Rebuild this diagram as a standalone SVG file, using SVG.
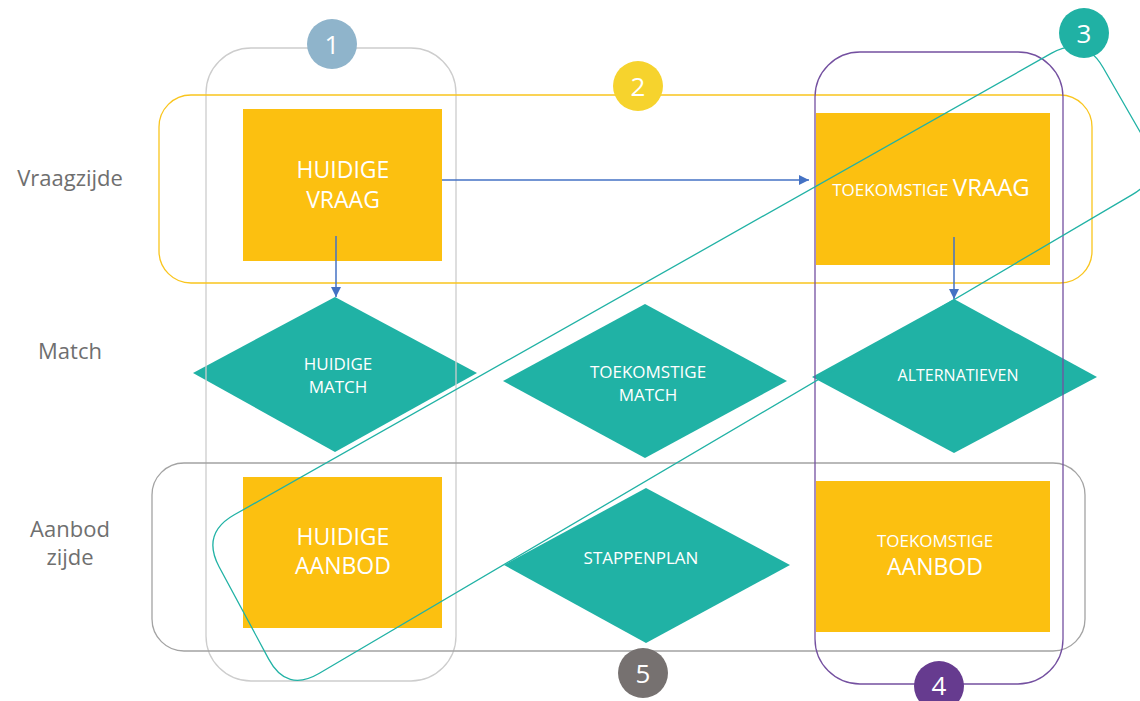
<svg xmlns="http://www.w3.org/2000/svg" width="1140" height="701" viewBox="0 0 1140 701">
  <defs>
    <marker id="arrow" viewBox="0 0 10 10" refX="10" refY="5" markerWidth="10" markerHeight="10" markerUnits="userSpaceOnUse" orient="auto">
      <path d="M0,0 L10,5 L0,10 z" fill="#4472c4"/>
    </marker>
  </defs>
  <style>
    text { font-family: "Open Sans", "Noto Sans", sans-serif; }
    .box { fill: #fcc010; }
    .dia { fill: #20b2a5; }
    .lbl { fill: #ffffff; text-anchor: middle; }
    .big { font-size: 23px; }
    .mid { font-size: 17px; }
    .sm { font-size: 17px; }
    .side { fill: #6f6f6f; font-size: 22px; text-anchor: middle; }
    .num { fill: #ffffff; font-size: 26px; text-anchor: middle; }
    .frame { fill: none; stroke-width: 1.3; }
    .conn { stroke: #4472c4; stroke-width: 1.5; fill: none; marker-end: url(#arrow); }
  </style>

  <rect width="1140" height="701" fill="#ffffff"/>

  <!-- row labels -->
  <g id="row-labels">
    <text class="side" x="70" y="186">Vraagzijde</text>
    <text class="side" x="70" y="359">Match</text>
    <text class="side" x="70" y="537">Aanbod</text>
    <text class="side" x="70" y="565">zijde</text>
  </g>

  <!-- yellow boxes -->
  <g id="huidige-vraag">
    <rect class="box" x="243" y="109" width="199" height="152"/>
    <text class="lbl big" x="343" y="178">HUIDIGE</text>
    <text class="lbl big" x="343" y="208">VRAAG</text>
  </g>
  <g id="toekomstige-vraag">
    <rect class="box" x="816" y="113" width="234" height="152"/>
    <text class="lbl" x="931" y="196"><tspan font-size="17">TOEKOMSTIGE </tspan><tspan font-size="24">VRAAG</tspan></text>
  </g>
  <g id="huidige-aanbod">
    <rect class="box" x="243" y="477" width="199" height="151"/>
    <text class="lbl big" x="343" y="545">HUIDIGE</text>
    <text class="lbl big" x="343" y="574">AANBOD</text>
  </g>
  <g id="toekomstige-aanbod">
    <rect class="box" x="816" y="481" width="234" height="151"/>
    <text class="lbl mid" x="935" y="547">TOEKOMSTIGE</text>
    <text class="lbl big" x="935" y="575">AANBOD</text>
  </g>

  <!-- decision diamonds -->
  <g id="huidige-match">
    <polygon class="dia" points="193,373 335,297 477,373 335,452"/>
    <text class="lbl sm" x="338" y="370">HUIDIGE</text>
    <text class="lbl sm" x="338" y="393">MATCH</text>
  </g>
  <g id="toekomstige-match">
    <polygon class="dia" points="503,381 645,304 787,381 645,458"/>
    <text class="lbl sm" x="648" y="378">TOEKOMSTIGE</text>
    <text class="lbl sm" x="648" y="401">MATCH</text>
  </g>
  <g id="alternatieven">
    <polygon class="dia" points="812,377 954,299 1097,377 954,453"/>
    <text class="lbl" font-size="16" x="958" y="381">ALTERNATIEVEN</text>
  </g>
  <g id="stappenplan">
    <polygon class="dia" points="504,565 646,488 790,565 646,643"/>
    <text class="lbl sm" x="641" y="564">STAPPENPLAN</text>
  </g>

  <!-- grouping frames -->
  <g id="frame-1">
    <rect class="frame" x="206" y="48" width="250" height="633" rx="45" stroke="#cdcdcd"/>
  </g>
  <g id="frame-2">
    <rect class="frame" x="159" y="95" width="933" height="188" rx="32" stroke="#f9c51e"/>
  </g>
  <g id="frame-5">
    <rect class="frame" x="152" y="463" width="933" height="188" rx="32" stroke="#a3a3a3"/>
  </g>
  <g id="frame-4">
    <rect class="frame" x="815" y="52" width="248" height="632" rx="45" stroke="#7450a0" stroke-width="1.5"/>
  </g>
  <g id="frame-3">
    <path class="frame" stroke="#21b2a5" d="M234.3,514.8 L1051.2,53.4 Q1084.3,34.7 1103.2,67.7 L1146.1,142.3 Q1165,175.3 1132.3,194.6 L319.4,673.3 Q286.7,692.6 268.7,659.1 L219.2,567 Q201.2,533.5 234.3,514.8 Z"/>
  </g>

  <!-- connectors -->
  <g id="connectors">
    <line class="conn" x1="336" y1="236" x2="336" y2="297"/>
    <line class="conn" x1="442" y1="180" x2="809" y2="180"/>
    <line class="conn" x1="954" y1="237" x2="954" y2="299"/>
  </g>

  <!-- numbered badges -->
  <g id="badge-1">
    <circle cx="332" cy="44" r="25" fill="#8fb4cb"/>
    <text class="num" x="332" y="54">1</text>
  </g>
  <g id="badge-2">
    <circle cx="638" cy="86" r="25" fill="#f6d32d"/>
    <text class="num" x="638" y="96">2</text>
  </g>
  <g id="badge-3">
    <circle cx="1084" cy="33" r="25" fill="#20b1a4"/>
    <text class="num" x="1084" y="43">3</text>
  </g>
  <g id="badge-4">
    <circle cx="939" cy="686" r="25" fill="#663b8f"/>
    <text class="num" x="939" y="695" font-size="25">4</text>
  </g>
  <g id="badge-5">
    <circle cx="643" cy="673" r="25" fill="#767170"/>
    <text class="num" x="643" y="683">5</text>
  </g>
</svg>
